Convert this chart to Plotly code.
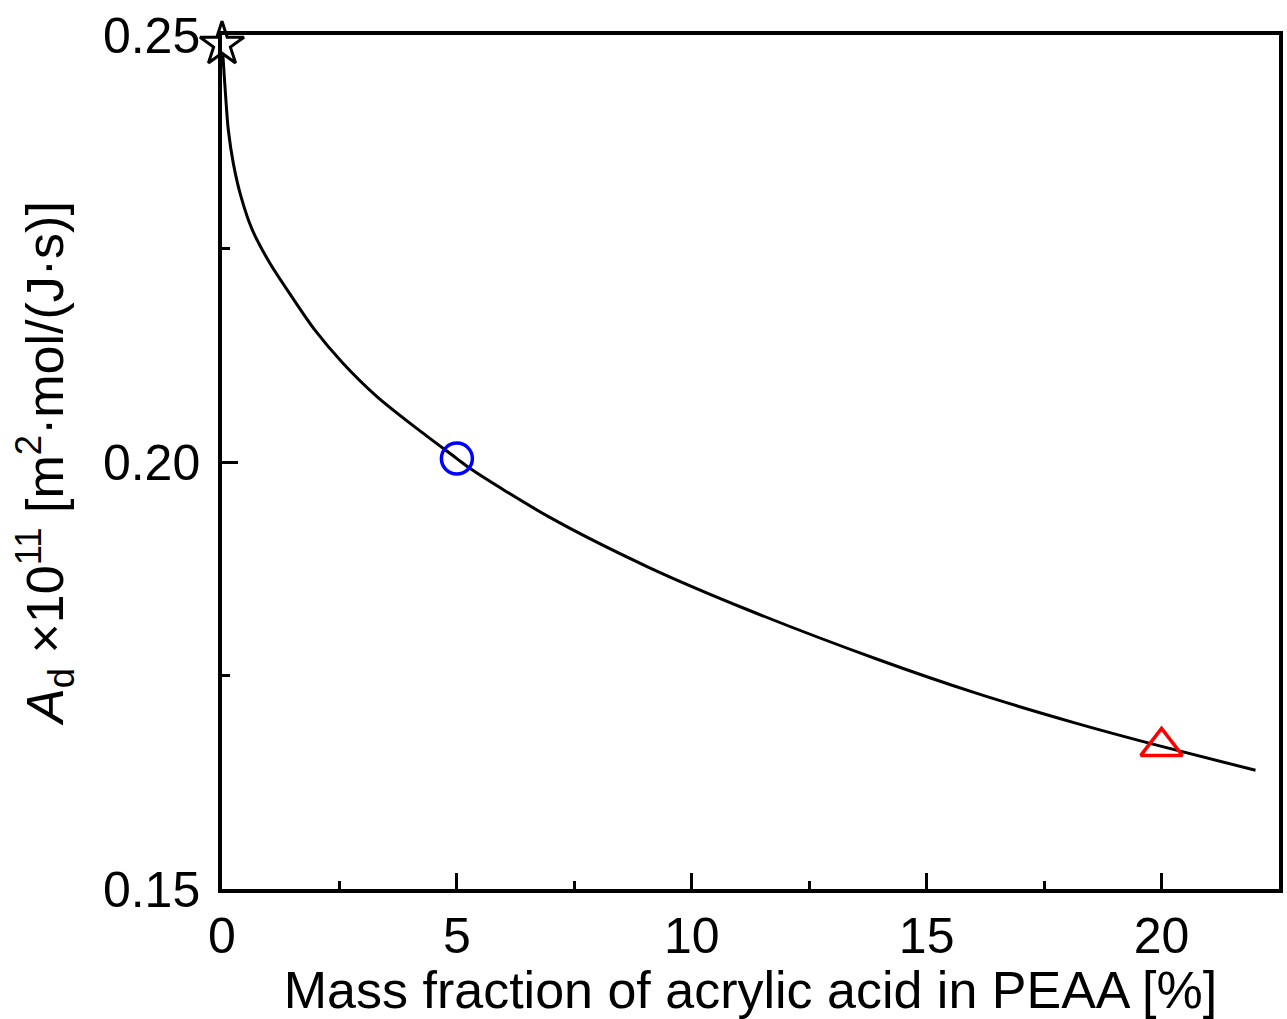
import plotly.graph_objects as go

# Curve data
curve_x = [0, 0.03, 0.078, 0.134, 0.24, 0.403, 0.643, 1.017, 1.48, 1.97, 2.57, 3.31, 4.2,
           5.0, 5.29, 6.95, 9.07, 11.19, 13.95, 16.07, 18.19, 20, 22]
curve_y = [0.2494, 0.2467, 0.2428, 0.2389, 0.2350, 0.2311, 0.2272, 0.2233, 0.2194, 0.2155,
           0.2116, 0.2076, 0.2037, 0.2004, 0.1992, 0.1936, 0.1877, 0.1827, 0.1769,
           0.1729, 0.1694, 0.1667, 0.1639]

# Highlighted points
star_x, star_y = [0], [0.2489]
circle_x, circle_y = [5], [0.2004]
tri_x, tri_y = [20], [0.1667]

x_ticks = [0, 5, 10, 15, 20]
y_ticks = [0.15, 0.20, 0.25]
y_tick_labels = ["0.15", "0.20", "0.25"]

FONT = "Liberation Sans, Arial, sans-serif"
TICK_SIZE = 50
TITLE_SIZE = 52

fig = go.Figure()
fig.add_trace(go.Scatter(x=curve_x, y=curve_y, mode="lines",
                         line=dict(color="black", width=3, shape="spline", smoothing=0.8),
                         showlegend=False, cliponaxis=False))
fig.add_trace(go.Scatter(x=star_x, y=star_y, mode="markers",
                         marker=dict(symbol="star", size=33, color="white",
                                     line=dict(color="black", width=3)),
                         showlegend=False, cliponaxis=False))
fig.add_trace(go.Scatter(x=circle_x, y=circle_y, mode="markers",
                         marker=dict(symbol="circle-open", size=31, color="#0000ff",
                                     line=dict(color="#0000ff", width=3.5)),
                         showlegend=False, cliponaxis=False))
fig.add_trace(go.Scatter(x=tri_x, y=tri_y, mode="markers",
                         marker=dict(symbol="triangle-up-open", size=36, color="#ff0000",
                                     line=dict(color="#ff0000", width=3.5)),
                         showlegend=False, cliponaxis=False))

fig.update_layout(
    width=1287, height=1019,
    margin=dict(l=222, r=4, t=35, b=130),
    plot_bgcolor="white", paper_bgcolor="white",
    font=dict(family=FONT, size=TICK_SIZE, color="black"),
    xaxis=dict(range=[0, 22.5], tickvals=x_ticks, ticks="inside", ticklen=16, tickwidth=3,
               tickcolor="black", showline=True, linecolor="black", linewidth=3.5, mirror=True,
               showgrid=False, zeroline=False,
               minor=dict(dtick=2.5, tick0=0, ticks="inside", ticklen=8, tickwidth=3, tickcolor="black"),
               tickfont=dict(size=TICK_SIZE),
               title=dict(text="Mass fraction of acrylic acid in PEAA [%]",
                          font=dict(size=TITLE_SIZE), standoff=0)),
    yaxis=dict(range=[0.15, 0.25], tickvals=y_ticks, ticktext=y_tick_labels, ticks="inside",
               ticklen=16, tickwidth=3, tickcolor="black", showline=True, linecolor="black",
               linewidth=3.5, mirror=True, showgrid=False, zeroline=False,
               ticklabelstandoff=8,
               minor=dict(dtick=0.025, tick0=0.15, ticks="inside", ticklen=8, tickwidth=3, tickcolor="black"),
               tickfont=dict(size=TICK_SIZE),
               title=dict(text="<i>A</i><sub>d</sub> ×10<sup>11</sup> [m<sup>2</sup>·mol/(J·s)]",
                          font=dict(size=TITLE_SIZE), standoff=24)),
)

fig.write_html("out.html")
